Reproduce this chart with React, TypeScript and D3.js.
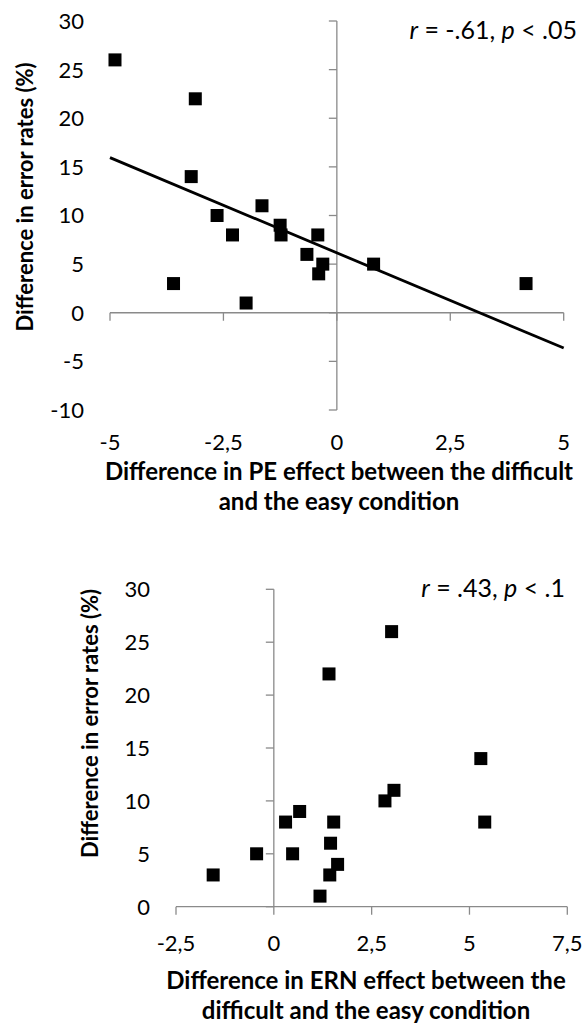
import React from "react";
import * as d3 from "d3";

// ---- data ----
const peX = [-4.89, -3.12, -3.21, -2.64, -2.3, -1.65, -1.25, -1.23, -3.6, -2.0, -0.42, -0.66, -0.31, -0.4, 0.81, 4.17];
const peY = [26, 22, 14, 10, 8, 11, 9, 8, 3, 1, 8, 6, 5, 4, 5, 3];
const ernX = [3.01, 1.41, 5.29, -1.55, -0.44, 0.3, 0.48, 0.66, 1.53, 1.45, 1.63, 1.43, 1.18, 2.84, 3.07, 5.39];
const ernY = [26, 22, 14, 3, 5, 8, 5, 9, 8, 6, 4, 3, 1, 10, 11, 8];

const peXTicks = [-5, -2.5, 0, 2.5, 5];
const peYTicks = [-10, -5, 0, 5, 10, 15, 20, 25, 30];
const ernXTicks = [-2.5, 0, 2.5, 5, 7.5];
const ernYTicks = [0, 5, 10, 15, 20, 25, 30];

const peStat = ["-.61", ".05"];
const ernStat = [".43", ".1"];

const yTitle = "Difference in error rates (%)";
const peXTitle = ["Difference in PE effect between the difficult", "and the easy condition"];
const ernXTitle = ["Difference in ERN effect between the", "difficult and the easy condition"];

const FONT = "Lato, 'Open Sans', sans-serif";
const AXIS = "#8a8a8a";
const fmt = (v: number) => String(v).replace(".", ",");

function regression(xs: number[], ys: number[]) {
  const mx = d3.mean(xs)!;
  const my = d3.mean(ys)!;
  let sxy = 0, sxx = 0;
  xs.forEach((x, i) => {
    sxy += (x - mx) * (ys[i] - my);
    sxx += (x - mx) * (x - mx);
  });
  const slope = sxy / sxx;
  return { slope, intercept: my - slope * mx };
}

type PanelProps = {
  xs: number[];
  ys: number[];
  xDomain: [number, number];
  xRange: [number, number];
  yDomain: [number, number];
  yRange: [number, number];
  xTicks: number[];
  yTicks: number[];
  yLabelRight: number;
  xLabelBaseline: number;
  yTitleX: number;
  yTitleY: number;
  xTitle: string[];
  xTitleX: number;
  xTitleY: number;
  stat: string[];
  statRight: number;
  statBaseline: number;
  trend: boolean;
};

function Panel(p: PanelProps) {
  const x = d3.scaleLinear().domain(p.xDomain).range(p.xRange);
  const y = d3.scaleLinear().domain(p.yDomain).range(p.yRange);
  const x0 = x(0);
  const y0 = y(0);
  const size = 13;
  let trendPath: string | null = null;
  if (p.trend) {
    const { slope, intercept } = regression(p.xs, p.ys);
    const line = d3
      .line<number>()
      .x((d) => x(d))
      .y((d) => y(intercept + slope * d));
    trendPath = line(p.xDomain as number[]);
  }
  return (
    <g>
      {/* y axis */}
      <line x1={x0} x2={x0} y1={y(p.yDomain[0])} y2={y(p.yDomain[1])} stroke={AXIS} strokeWidth={1.3} />
      {p.yTicks.map((t) => (
        <line key={"yt" + t} x1={x0 - 8} x2={x0} y1={y(t)} y2={y(t)} stroke={AXIS} strokeWidth={1.3} />
      ))}
      {/* x axis */}
      <line x1={x(p.xDomain[0])} x2={x(p.xDomain[1])} y1={y0} y2={y0} stroke={AXIS} strokeWidth={1.3} />
      {p.xTicks.map((t) => (
        <line key={"xt" + t} x1={x(t)} x2={x(t)} y1={y0} y2={y0 + 8} stroke={AXIS} strokeWidth={1.3} />
      ))}
      {/* tick labels */}
      {p.yTicks.map((t) => (
        <text key={"yl" + t} x={p.yLabelRight} y={y(t)} dy="0.36em" textAnchor="end" fontSize={22} fontFamily={FONT} fill="#000">
          {fmt(t)}
        </text>
      ))}
      {p.xTicks.map((t) => (
        <text key={"xl" + t} x={x(t)} y={p.xLabelBaseline} textAnchor="middle" fontSize={22} fontFamily={FONT} fill="#000">
          {fmt(t)}
        </text>
      ))}
      {/* trend line */}
      {trendPath && <path d={trendPath} fill="none" stroke="#000" strokeWidth={2.8} />}
      {/* points */}
      {p.xs.map((v, i) => (
        <rect key={"pt" + i} x={x(v) - size / 2} y={y(p.ys[i]) - size / 2} width={size} height={size} fill="#000" />
      ))}
      {/* y title */}
      <text
        transform={`translate(${p.yTitleX},${p.yTitleY}) rotate(-90)`}
        textAnchor="middle"
        fontSize={22}
        fontWeight="bold"
        fontFamily={FONT}
        fill="#000"
      >
        {yTitle}
      </text>
      {/* x title */}
      {p.xTitle.map((s, i) => (
        <text key={"xtl" + i} x={p.xTitleX} y={p.xTitleY + i * 30} textAnchor="middle" fontSize={24} fontWeight="bold" fontFamily={FONT} fill="#000">
          {s}
        </text>
      ))}
      {/* stats */}
      <text x={p.statRight} y={p.statBaseline} textAnchor="end" fontSize={25} fontFamily={FONT} fill="#000">
        <tspan fontStyle="italic">r</tspan>
        <tspan>{` = ${p.stat[0]}, `}</tspan>
        <tspan fontStyle="italic">p</tspan>
        <tspan>{` < ${p.stat[1]}`}</tspan>
      </text>
    </g>
  );
}

export default function App() {
  return (
    <svg width={582} height={1027} style={{ position: "absolute", left: 0, top: 0, background: "#fff" }}>
      <rect width={582} height={1027} fill="#fff" />
      <Panel
        xs={peX}
        ys={peY}
        xDomain={[-5, 5]}
        xRange={[110, 563.7]}
        yDomain={[-10, 30]}
        yRange={[410, 21]}
        xTicks={peXTicks}
        yTicks={peYTicks}
        yLabelRight={84}
        xLabelBaseline={450}
        yTitleX={33}
        yTitleY={197}
        xTitle={peXTitle}
        xTitleX={339}
        xTitleY={480}
        stat={peStat}
        statRight={577}
        statBaseline={39}
        trend={true}
      />
      <Panel
        xs={ernX}
        ys={ernY}
        xDomain={[-2.5, 7.5]}
        xRange={[176, 567.3]}
        yDomain={[0, 30]}
        yRange={[906.7, 589.3]}
        xTicks={ernXTicks}
        yTicks={ernYTicks}
        yLabelRight={150}
        xLabelBaseline={951}
        yTitleX={98}
        yTitleY={723.5}
        xTitle={ernXTitle}
        xTitleX={366}
        xTitleY={989}
        stat={ernStat}
        statRight={565}
        statBaseline={597}
        trend={false}
      />
    </svg>
  );
}
